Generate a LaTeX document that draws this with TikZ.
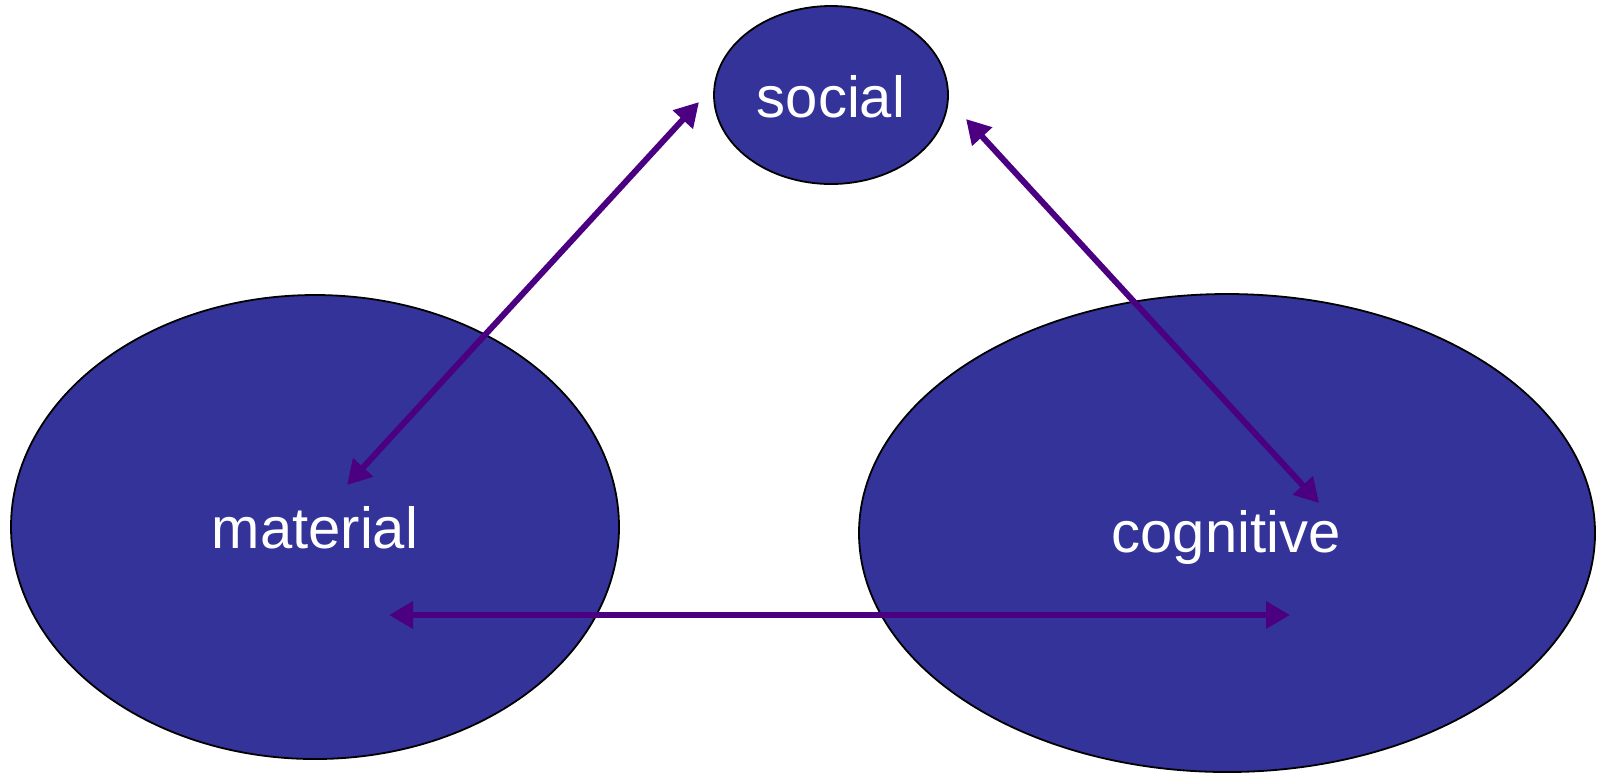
\documentclass[tikz,border=0pt]{standalone}
\usepackage{fontspec}
\setmainfont{Liberation Sans}
\usetikzlibrary{shapes.geometric,arrows.meta}
\definecolor{blobblue}{RGB}{51, 51, 153}
\definecolor{linkpurple}{RGB}{75, 0, 130}

\begin{document}
\begin{tikzpicture}[x=0.1mm, y=-0.1mm,
    blob/.style={draw=black, line width=0.18mm, ellipse, fill=blobblue, inner sep=0pt},
    link/.style={linkpurple, line width=0.6mm, {Triangle[length=2.4mm,width=2.6mm]}-{Triangle[length=2.4mm,width=2.6mm]}}]
                    \useasboundingbox (0,0) rectangle (1599,775);
                    \node[blob, minimum width=23.4mm, minimum height=17.8mm] (S) at (831,95) {};
                    \node[blob, minimum width=60.8mm, minimum height=46.4mm] (M) at (315,527) {};
                    \node[blob, minimum width=73.6mm, minimum height=47.8mm] (C) at (1227,533) {};

                    \node[white, font=\fontsize{16.5}{20}\selectfont] (St) at (831,97) {social};
                    \node[white, font=\fontsize{16.5}{20}\selectfont] (Mt) at (315,528) {material};
                    \node[white, font=\fontsize{16.5}{20}\selectfont] (Ct) at (1226,537) {cognitive};

                    \coordinate (ms) at (347,485);
                    \coordinate (sm) at (699,102);
                    \coordinate (sc) at (966,119);
                    \coordinate (cs) at (1319,503);
                    \coordinate (mc) at (389,615);
                    \coordinate (cm) at (1290,615);

                    \draw[link] (ms) -- (sm);
                    \draw[link] (sc) -- (cs);
                    \draw[link] (mc) -- (cm);
                \end{tikzpicture}
\end{document}
